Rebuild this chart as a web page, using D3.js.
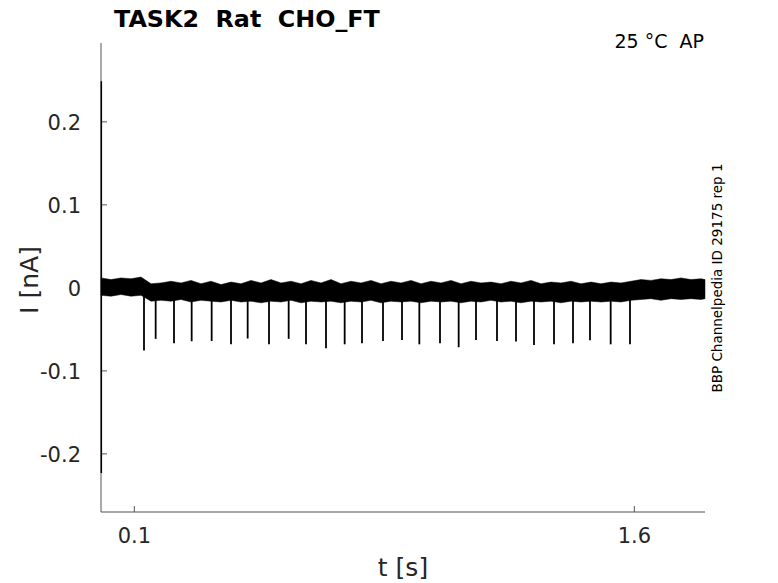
<!DOCTYPE html>
<html>
<head>
<meta charset="utf-8">
<script src="https://cdn.jsdelivr.net/npm/d3@7"></script>
<style>
  body { margin: 0; background: #fff; }
  text { font-family: "DejaVu Sans", sans-serif; }
</style>
</head>
<body>
<svg id="chart" width="778" height="583"></svg>
<script>
const svg = d3.select("#chart");

// noise band of the recording: time (s), upper and lower edge (nA)
const bandT = [0.00, 0.03, 0.06, 0.09, 0.12, 0.15, 0.18, 0.21, 0.24, 0.27, 0.30, 0.33, 0.36, 0.39, 0.42,
    0.45, 0.48, 0.51, 0.54, 0.57, 0.60, 0.63, 0.66, 0.69, 0.72, 0.75, 0.78, 0.81, 0.84, 0.87, 0.90,
    0.93, 0.96, 0.99, 1.02, 1.05, 1.08, 1.11, 1.14, 1.17, 1.20, 1.23, 1.26, 1.29, 1.32, 1.35, 1.38,
    1.41, 1.44, 1.47, 1.50, 1.53, 1.56, 1.59, 1.62, 1.65, 1.68, 1.71, 1.74, 1.77, 1.80, 1.812];
const bandHi = [0.012, 0.010, 0.012, 0.011, 0.013, 0.005, 0.006, 0.008, 0.006, 0.009, 0.005, 0.008, 0.004, 0.007, 0.005,
    0.009, 0.006, 0.010, 0.006, 0.008, 0.005, 0.009, 0.006, 0.010, 0.005, 0.008, 0.006, 0.009, 0.005, 0.008, 0.006,
    0.009, 0.005, 0.008, 0.006, 0.009, 0.005, 0.008, 0.006, 0.007, 0.005, 0.008, 0.006, 0.009, 0.005, 0.007, 0.006,
    0.008, 0.005, 0.007, 0.005, 0.007, 0.006, 0.008, 0.010, 0.009, 0.011, 0.010, 0.012, 0.010, 0.011, 0.010];
const bandLo = [-0.009, -0.010, -0.008, -0.010, -0.009, -0.016, -0.015, -0.016, -0.014, -0.017, -0.015, -0.016, -0.017, -0.015, -0.017,
    -0.016, -0.018, -0.016, -0.017, -0.015, -0.018, -0.016, -0.017, -0.016, -0.018, -0.016, -0.017, -0.015, -0.018, -0.016, -0.017,
    -0.016, -0.018, -0.016, -0.017, -0.016, -0.018, -0.016, -0.017, -0.015, -0.017, -0.016, -0.018, -0.016, -0.017, -0.016, -0.018,
    -0.016, -0.017, -0.016, -0.017, -0.016, -0.017, -0.015, -0.014, -0.013, -0.015, -0.013, -0.014, -0.013, -0.014, -0.013];

// the capacitive transient right at the start
const startSpike = {t: 0.001, hi: 0.249, lo: -0.223};

// evoked inward currents: time (s) and peak (nA)
const spikeT = [0.129, 0.164, 0.219, 0.272, 0.332, 0.390, 0.440, 0.504, 0.563, 0.615, 0.675, 0.731, 0.783, 0.846,
    0.903, 0.955, 1.017, 1.073, 1.125, 1.188, 1.245, 1.299, 1.359, 1.416, 1.467, 1.529, 1.587];
const spikeMin = [-0.0755, -0.0614, -0.0667, -0.0643, -0.064, -0.068, -0.061, -0.068, -0.0614, -0.068, -0.0727, -0.068, -0.0667, -0.064,
    -0.0627, -0.068, -0.0667, -0.0715, -0.0627, -0.064, -0.0647, -0.0687, -0.068, -0.0667, -0.063, -0.068, -0.068];

const xTicks = [0.1, 1.6];
const yTicks = [-0.2, -0.1, 0, 0.1, 0.2];

const plotLeft = 101, plotRight = 705, plotTop = 43, plotBottom = 512;
const AXIS_COLOR = "#555";

let xscale = d3.scaleLinear().domain([0, 1.812]).range([plotLeft, plotRight]);
let yscale = d3.scaleLinear().domain([-0.270, 0.295]).range([plotBottom, plotTop]);

function drawAxes() {
    svg.append("line")
        .attr("x1", plotLeft).attr("x2", plotLeft)
        .attr("y1", plotTop).attr("y2", plotBottom)
        .attr("stroke", AXIS_COLOR);
    svg.append("line")
        .attr("x1", plotLeft).attr("x2", plotRight)
        .attr("y1", plotBottom).attr("y2", plotBottom)
        .attr("stroke", AXIS_COLOR);

    svg.selectAll(".ytick").data(yTicks).join("line")
        .attr("class", "ytick")
        .attr("x1", plotLeft).attr("x2", plotLeft + 6)
        .attr("y1", d => yscale(d)).attr("y2", d => yscale(d))
        .attr("stroke", AXIS_COLOR);
    svg.selectAll(".ylab").data(yTicks).join("text")
        .attr("class", "ylab")
        .attr("x", 81)
        .attr("y", d => yscale(d) + 8)
        .attr("text-anchor", "end")
        .attr("font-size", 21)
        .attr("fill", "#262626")
        .text(d => d);

    svg.selectAll(".xtick").data(xTicks).join("line")
        .attr("class", "xtick")
        .attr("x1", d => xscale(d)).attr("x2", d => xscale(d))
        .attr("y1", plotBottom).attr("y2", plotBottom - 6)
        .attr("stroke", AXIS_COLOR);
    svg.selectAll(".xlab").data(xTicks).join("text")
        .attr("class", "xlab")
        .attr("x", d => xscale(d))
        .attr("y", 543)
        .attr("text-anchor", "middle")
        .attr("font-size", 21)
        .attr("fill", "#262626")
        .text(d => d);

    svg.append("text")
        .attr("x", 403).attr("y", 576)
        .attr("text-anchor", "middle")
        .attr("font-size", 25)
        .attr("fill", "#262626")
        .text("t [s]");
    svg.append("text")
        .attr("transform", "translate(38,280) rotate(-90)")
        .attr("text-anchor", "middle")
        .attr("font-size", 25)
        .attr("fill", "#262626")
        .text("I [nA]");
}

function drawTrace() {
    const pts = bandT.map((t, i) => ({t: t, hi: bandHi[i], lo: bandLo[i]}));
    const area = d3.area()
        .x(d => xscale(d.t))
        .y0(d => yscale(d.lo))
        .y1(d => yscale(d.hi));
    svg.append("path")
        .datum(pts)
        .attr("d", area)
        .attr("fill", "black")
        .attr("stroke", "black")
        .attr("stroke-width", 0.5);

    svg.append("line")
        .attr("x1", xscale(startSpike.t)).attr("x2", xscale(startSpike.t))
        .attr("y1", yscale(startSpike.hi)).attr("y2", yscale(startSpike.lo))
        .attr("stroke", "black")
        .attr("stroke-width", 1.5);

    svg.selectAll(".spike").data(spikeT).join("line")
        .attr("class", "spike")
        .attr("x1", d => xscale(d)).attr("x2", d => xscale(d))
        .attr("y1", yscale(-0.01))
        .attr("y2", (d, i) => yscale(spikeMin[i]))
        .attr("stroke", "black")
        .attr("stroke-width", 1.8);
}

function drawLabels() {
    svg.append("text")
        .attr("x", 114).attr("y", 27)
        .attr("font-size", 23.8)
        .attr("font-weight", "bold")
        .attr("fill", "black")
        .text("TASK2\u00a0\u00a0Rat\u00a0\u00a0CHO_FT");
    svg.append("text")
        .attr("x", 704).attr("y", 48)
        .attr("text-anchor", "end")
        .attr("font-size", 19)
        .attr("fill", "black")
        .text("25 \u00b0C\u00a0\u00a0AP");
    svg.append("text")
        .attr("transform", "translate(722,278) rotate(-90)")
        .attr("text-anchor", "middle")
        .attr("font-size", 13.5)
        .attr("fill", "black")
        .text("BBP Channelpedia ID 29175 rep 1");
}

drawAxes();
drawTrace();
drawLabels();
</script>
</body>
</html>
